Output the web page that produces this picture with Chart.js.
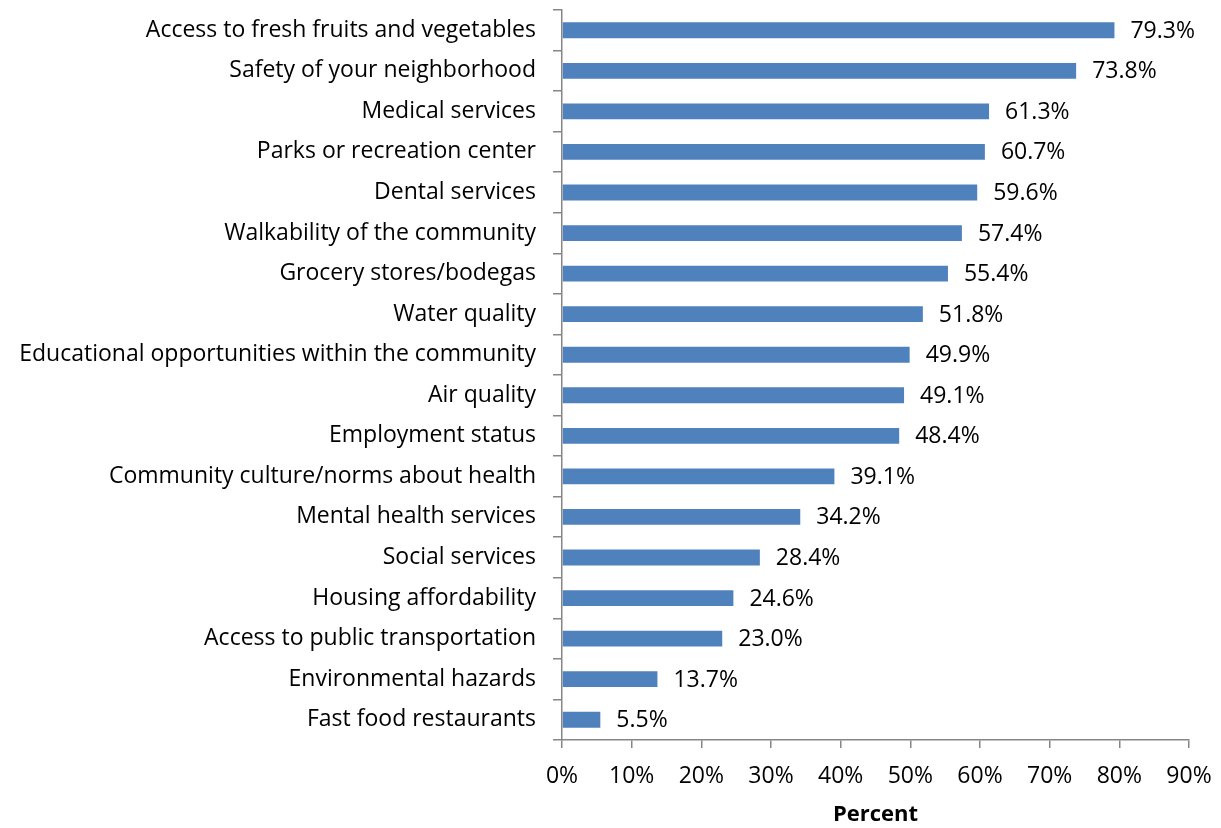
<!DOCTYPE html>
<html>
<head>
<meta charset="utf-8">
<script src="https://cdn.jsdelivr.net/npm/chart.js@4"></script>
<style>
  html, body { margin: 0; padding: 0; background: #fff; }
  #wrap { width: 1221px; height: 828px; }
</style>
</head>
<body>
<div id="wrap"><canvas id="chart" width="1221" height="828"></canvas></div>
<script>
// categories, top to bottom
const categories = [
  'Access to fresh fruits and vegetables',
  'Safety of your neighborhood',
  'Medical services',
  'Parks or recreation center',
  'Dental services',
  'Walkability of the community',
  'Grocery stores/bodegas',
  'Water quality',
  'Educational opportunities within the community',
  'Air quality',
  'Employment status',
  'Community culture/norms about health',
  'Mental health services',
  'Social services',
  'Housing affordability',
  'Access to public transportation',
  'Environmental hazards',
  'Fast food restaurants'
];
const percentValues = [79.3, 73.8, 61.3, 60.7, 59.6, 57.4, 55.4, 51.8, 49.9, 49.1, 48.4, 39.1, 34.2, 28.4, 24.6, 23.0, 13.7, 5.5];
const xTicks = [0, 10, 20, 30, 40, 50, 60, 70, 80, 90];
const axisTitle = 'Percent';

const FONT = '"Open Sans", Lato, sans-serif';
const axisGray = '#868686';

// draws the "79.3%" labels at the end of each bar
const valueLabels = {
  id: 'valueLabels',
  afterDatasetsDraw(chart) {
    const ctx = chart.ctx;
    const meta = chart.getDatasetMeta(0);
    ctx.save();
    ctx.font = '23px ' + FONT;
    ctx.fillStyle = '#000';
    ctx.textAlign = 'left';
    ctx.textBaseline = 'middle';
    meta.data.forEach((bar, i) => {
      ctx.fillText(percentValues[i].toFixed(1) + '%', bar.x + 16, bar.y + 1);
    });
    ctx.restore();
  }
};

new Chart(document.getElementById('chart'), {
  type: 'bar',
  data: {
    labels: categories,
    datasets: [{
      data: percentValues,
      backgroundColor: '#4F81BD',
      borderWidth: 0,
      barPercentage: 1,
      categoryPercentage: 0.39
    }]
  },
  options: {
    indexAxis: 'y',
    responsive: false,
    animation: false,
    layout: { padding: { top: 10, right: 32, left: 0, bottom: 0 } },
    plugins: {
      legend: { display: false },
      tooltip: { enabled: false }
    },
    scales: {
      x: {
        min: 0,
        max: 90,
        afterBuildTicks(axis) { axis.ticks = xTicks.map(v => ({ value: v })); },
        afterFit(axis) {
          axis.height = 88;
          axis.paddingLeft = 0;
          axis.paddingRight = 0;
        },
        ticks: {
          callback: v => v + '%',
          color: '#000',
          font: { family: FONT, size: 23 },
          padding: 15,
          maxRotation: 0
        },
        grid: { drawOnChartArea: false, tickLength: 8, color: axisGray, lineWidth: 1.5 },
        border: { color: axisGray, width: 1.5 },
        title: {
          display: true,
          text: axisTitle,
          color: '#000',
          font: { family: FONT, size: 22, weight: 'bold' },
          padding: { top: 0, bottom: 0 }
        }
      },
      y: {
        afterFit(axis) {
          axis.width = 562;
          axis.paddingTop = 0;
          axis.paddingBottom = 0;
        },
        ticks: {
          color: '#000',
          font: { family: FONT, size: 23 },
          padding: 17,
          autoSkip: false
        },
        grid: { offset: true, drawOnChartArea: false, tickLength: 9, color: axisGray, lineWidth: 1.5 },
        border: { color: axisGray, width: 1.5 }
      }
    }
  },
  plugins: [valueLabels]
});
</script>
</body>
</html>
